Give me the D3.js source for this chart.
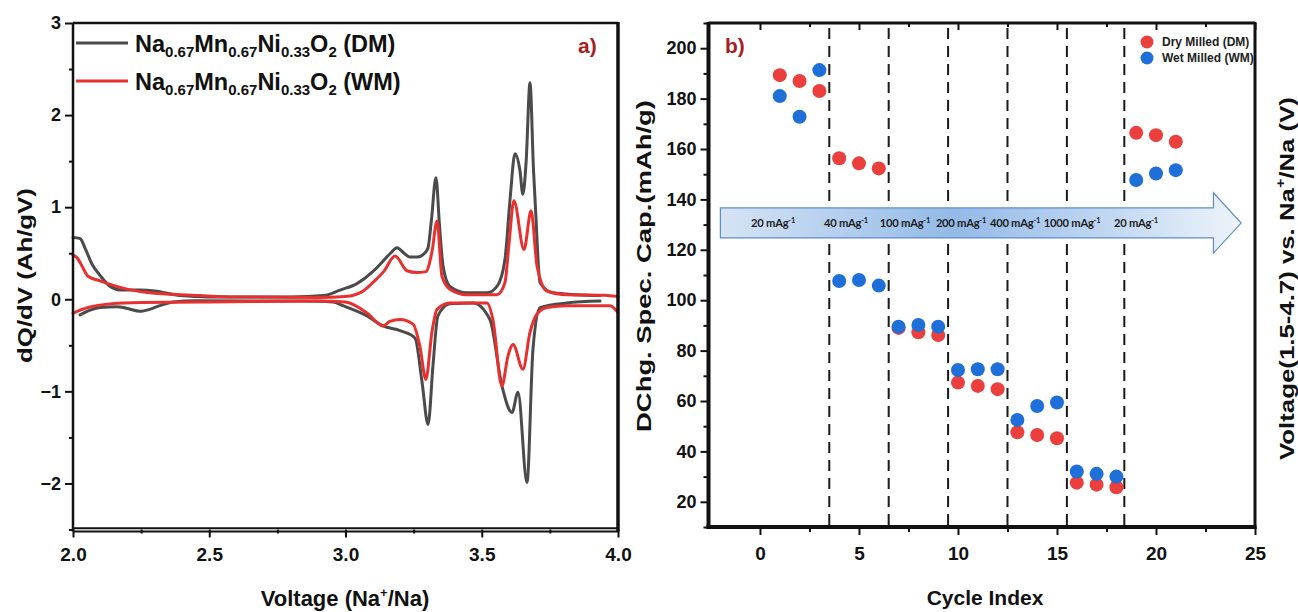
<!DOCTYPE html>
<html>
<head>
<meta charset="utf-8">
<script src="https://cdn.jsdelivr.net/npm/d3@7"></script>
<style>
  body { margin: 0; background: #fff; }
  svg { display: block; font-family: "Liberation Sans", Arial, sans-serif; font-weight: bold; }
</style>
</head>
<body>
<svg id="fig" width="1298" height="612"></svg>
<script>
// ---------- (a) differential capacity, [voltage, dQ/dV] ----------
const dmCharge = [
  [2.000,0.67],[2.026,0.66],[2.045,0.55],[2.070,0.38],[2.099,0.26],[2.136,0.14],[2.180,0.10],
  [2.246,0.10],[2.300,0.09],[2.393,0.04],[2.500,0.025],[2.800,0.025],[2.920,0.04],[2.980,0.10],
  [3.042,0.17],[3.100,0.30],[3.127,0.38],[3.165,0.50],[3.189,0.56],[3.215,0.50],[3.235,0.46],
  [3.265,0.46],[3.290,0.50],[3.303,0.56],[3.315,0.85],[3.332,1.32],[3.345,0.80],[3.358,0.36],
  [3.383,0.14],[3.446,0.07],[3.519,0.07],[3.556,0.14],[3.585,0.43],[3.604,1.09],[3.622,1.58],
  [3.640,1.40],[3.651,1.14],[3.663,1.50],[3.677,2.35],[3.690,1.40],[3.697,1.00],[3.714,0.18],
  [3.761,0.07],[3.850,0.05],[3.934,0.04]
];
const dmDischarge = [
  [2.026,-0.17],[2.060,-0.12],[2.099,-0.09],[2.161,-0.08],[2.200,-0.10],[2.246,-0.13],[2.280,-0.11],
  [2.308,-0.08],[2.367,-0.03],[2.450,-0.015],[2.833,-0.02],[2.954,-0.03],[2.991,-0.07],[3.079,-0.18],
  [3.138,-0.29],[3.200,-0.34],[3.255,-0.42],[3.281,-0.90],[3.303,-1.36],[3.321,-0.72],[3.339,-0.18],
  [3.383,-0.05],[3.468,-0.04],[3.530,-0.22],[3.574,-0.94],[3.611,-1.23],[3.633,-1.01],[3.666,-1.99],
  [3.688,-0.54],[3.714,-0.09],[3.813,-0.04],[3.934,-0.02]
];
const wmCharge = [
  [2.000,0.48],[2.015,0.45],[2.026,0.40],[2.055,0.25],[2.099,0.20],[2.198,0.11],[2.283,0.07],
  [2.466,0.04],[2.600,0.025],[2.900,0.02],[3.000,0.03],[3.060,0.08],[3.100,0.18],[3.140,0.30],
  [3.182,0.47],[3.226,0.31],[3.262,0.29],[3.295,0.30],[3.317,0.51],[3.336,0.85],[3.354,0.25],
  [3.383,0.11],[3.446,0.05],[3.556,0.05],[3.585,0.18],[3.600,0.60],[3.618,1.07],[3.655,0.54],
  [3.681,0.96],[3.703,0.36],[3.739,0.09],[3.813,0.05],[3.950,0.045],[4.000,0.03]
];
const wmDischarge = [
  [2.000,-0.15],[2.055,-0.09],[2.136,-0.05],[2.250,-0.035],[2.500,-0.03],[2.900,-0.02],[3.000,-0.03],
  [3.079,-0.15],[3.138,-0.29],[3.163,-0.24],[3.200,-0.22],[3.248,-0.27],[3.273,-0.51],[3.295,-0.87],
  [3.317,-0.36],[3.336,-0.11],[3.383,-0.04],[3.519,-0.04],[3.541,-0.22],[3.574,-0.94],[3.596,-0.62],
  [3.615,-0.49],[3.651,-0.76],[3.677,-0.36],[3.703,-0.16],[3.739,-0.09],[3.813,-0.07],[3.971,-0.07],
  [3.996,-0.13]
];
const formulaParts = [["Na","0.67"],["Mn","0.67"],["Ni","0.33"],["O","2"]];
const dqdvSeries = [" (DM)", " (WM)"];
const voltTicks = [2.0, 2.5, 3.0, 3.5, 4.0];
const voltMinor = [2.25, 2.75, 3.25, 3.75];
const dqdvTicks = [-2, -1, 0, 1, 2, 3];
const dqdvMinor = [-2.5, -1.5, -0.5, 0.5, 1.5, 2.5];

// ---------- (b) rate capability ----------
const cycles      = [1,2,3,4,5,6,7,8,9,10,11,12,13,14,15,16,17,18,19,20,21];
const dmCapacity  = [189.3,187.0,183.0,156.3,154.3,152.3,89.0,87.3,86.2,67.3,66.0,64.7,47.6,46.5,45.2,27.6,26.8,25.8,166.4,165.5,162.9];
const wmCapacity  = [181.0,172.8,191.3,107.6,108.0,105.8,89.5,90.2,89.5,72.3,72.6,72.6,52.5,58.0,59.4,32.0,31.1,30.0,147.7,150.3,151.6];
const capSeries   = ["Dry Milled (DM)", "Wet Milled (WM)"];
const rateBounds  = [3.5, 6.5, 9.5, 12.5, 15.5, 18.4];
const rateLabels  = ["20", "40", "100", "200", "400", "1000", "20"];
const rateLabelAt = [0.66, 4.34, 7.32, 10.15, 12.88, 15.76, 18.99];
const cycleTicks  = [0, 5, 10, 15, 20, 25];
const cycleMinor  = [2.5, 7.5, 12.5, 17.5, 22.5];
const capTicks    = [20, 40, 60, 80, 100, 120, 140, 160, 180, 200];
const capMinor    = [10, 30, 50, 70, 90, 110, 130, 150, 170, 190, 210];

const GREY = "#4b4b4b", RED = "#e8302e", DOT_RED = "#ea3f3c", DOT_BLUE = "#1f6fd8", LABEL_RED = "#a61e22";

const svg = d3.select("#fig");

function styleAxis(g, width) {
  g.select(".domain").remove();
  g.selectAll(".tick line").attr("stroke", "#111").attr("stroke-width", width);
  g.selectAll(".tick text").attr("fill", "#111");
}

// ===== panel (a) =====
const xL = d3.scaleLinear().domain([2, 4]).range([73, 618]);
const yL = d3.scaleLinear().domain([-2.5, 3]).range([529.5, 23]);
const gA = svg.append("g");

const lineL = d3.line().x(d => xL(d[0])).y(d => yL(d[1])).curve(d3.curveMonotoneX);
[[dmCharge, GREY], [dmDischarge, GREY], [wmCharge, RED], [wmDischarge, RED]].forEach(([data, c]) => {
  gA.append("path").datum(data).attr("d", lineL)
    .attr("fill", "none").attr("stroke", c).attr("stroke-width", 3)
    .attr("stroke-linejoin", "round").attr("stroke-linecap", "round");
});

gA.append("g").attr("transform", `translate(${xL.range()[0]},0)`)
  .call(d3.axisLeft(yL).tickValues(dqdvTicks).tickSize(8).tickPadding(4).tickFormat(d3.format("d")))
  .call(g => styleAxis(g, 2)).selectAll("text").attr("font-size", 18).attr("font-family", null);
gA.append("g").attr("transform", `translate(${xL.range()[0]},0)`)
  .call(d3.axisLeft(yL).tickValues(dqdvMinor).tickSize(4).tickFormat(""))
  .call(g => styleAxis(g, 2));
gA.append("g").attr("transform", `translate(0,${yL.range()[0]})`)
  .call(d3.axisBottom(xL).tickValues(voltTicks).tickSize(8).tickPadding(10).tickFormat(d3.format(".1f")))
  .call(g => styleAxis(g, 2)).selectAll("text").attr("font-size", 19).attr("font-family", null);
gA.append("g").attr("transform", `translate(0,${yL.range()[0]})`)
  .call(d3.axisBottom(xL).tickValues(voltMinor).tickSize(4).tickFormat(""))
  .call(g => styleAxis(g, 2));

// frame
const [ax0, ax1] = xL.range(), [ay1, ay0] = yL.range();
gA.append("line").attr("x1", ax0).attr("x2", ax0).attr("y1", ay0).attr("y2", ay1 + 2).attr("stroke", "#111").attr("stroke-width", 2.5);
gA.append("line").attr("x1", ax0).attr("x2", ax1).attr("y1", ay0).attr("y2", ay0).attr("stroke", "#111").attr("stroke-width", 2.5);
gA.append("line").attr("x1", ax1).attr("x2", ax1).attr("y1", ay0 - 1).attr("y2", ay1 + 2).attr("stroke", "#111").attr("stroke-width", 3.5);
gA.append("line").attr("x1", ax0).attr("x2", ax1 + 1).attr("y1", ay1 - 1.2).attr("y2", ay1 - 1.2).attr("stroke", "#111").attr("stroke-width", 2);
gA.append("line").attr("x1", ax0).attr("x2", ax1 + 1).attr("y1", ay1 + 2).attr("y2", ay1 + 2).attr("stroke", "#111").attr("stroke-width", 2);

// legend with chemical formula subscripts
[[GREY, 43], [RED, 81]].forEach(([c, y], i) => {
  gA.append("line").attr("x1", 76).attr("x2", 128).attr("y1", y).attr("y2", y).attr("stroke", c).attr("stroke-width", 3);
  const t = gA.append("text").attr("x", 135).attr("y", y + 9).attr("font-size", 23.5).attr("fill", "#111");
  formulaParts.forEach(([el, sub], k) => {
    t.append("tspan").attr("dy", k === 0 ? 0 : -5).text(el);
    t.append("tspan").attr("font-size", 15).attr("dy", 5).text(sub);
  });
  t.append("tspan").attr("dy", -5).text(dqdvSeries[i]);
});
gA.append("text").attr("x", 578).attr("y", 53).attr("font-size", 21).attr("fill", LABEL_RED).text("a)");

// axis titles
const xtA = gA.append("text").attr("x", 345).attr("y", 606).attr("text-anchor", "middle").attr("font-size", 22).attr("fill", "#111");
xtA.append("tspan").text("Voltage (Na");
xtA.append("tspan").attr("font-size", 13).attr("dy", -9).text("+");
xtA.append("tspan").attr("dy", 9).text("/Na)");

function rotatedTitle(parent, cx, cy, length, build) {
  const g = parent.append("g").attr("transform", `translate(${cx},${cy}) rotate(-90)`);
  const t = g.append("text").attr("text-anchor", "middle").attr("font-size", 21).attr("fill", "#111");
  build(t);
  const natural = t.node().getComputedTextLength();
  t.attr("transform", `scale(${length / natural},1)`);
}
rotatedTitle(gA, 32, 275.5, 175, t => t.text("dQ/dV (Ah/gV)"));

// ===== panel (b) =====
const xR = d3.scaleLinear().domain([-2.6, 25]).range([708.5, 1255]);
const yR = d3.scaleLinear().domain([10, 210]).range([527, 23]);
const gB = svg.append("g");
const [bx0, bx1] = xR.range(), [by1, by0] = yR.range();

// rate-step boundaries
gB.selectAll(".bound").data(rateBounds).join("line")
  .attr("x1", d => xR(d)).attr("x2", d => xR(d))
  .attr("y1", by0 + 5).attr("y2", by1)
  .attr("stroke", "#1a1a1a").attr("stroke-width", 2).attr("stroke-dasharray", "11,7");

// current density arrow
const grad = svg.append("defs").append("linearGradient").attr("id", "arrowFill");
[[0, "#d6e4f5"], [0.45, "#93bae8"], [0.75, "#c2d8f2"], [1, "#eef4fb"]].forEach(([o, c]) =>
  grad.append("stop").attr("offset", o).attr("stop-color", c));
const aL = xR(-2.0), aH = xR(22.9), aT = xR(24.3);
const bTop = yR(136.6), bBot = yR(124.7), hTop = yR(142.6), hBot = yR(118.7), aMid = yR(130.6);
gB.append("path")
  .attr("d", `M${aL},${bTop}L${aH},${bTop}L${aH},${hTop}L${aT},${aMid}L${aH},${hBot}L${aH},${bBot}L${aL},${bBot}Z`)
  .attr("fill", "url(#arrowFill)").attr("stroke", "#5d8cc6").attr("stroke-width", 1.2);
rateLabels.forEach((v, i) => {
  const t = gB.append("text").attr("x", xR(rateLabelAt[i])).attr("y", aMid + 4)
    .attr("text-anchor", "middle").attr("font-family", "Lato, 'Open Sans', sans-serif")
    .attr("font-weight", "bold").attr("font-size", 11.2).attr("letter-spacing", -0.25).attr("fill", "#1c1c1c");
  t.append("tspan").text(v + " mAg");
  t.append("tspan").attr("font-size", 7.5).attr("dy", -4).text("-1");
});

// capacity points
[[dmCapacity, DOT_RED], [wmCapacity, DOT_BLUE]].forEach(([vals, c]) => {
  gB.append("g").selectAll("circle").data(vals).join("circle")
    .attr("cx", (d, i) => xR(cycles[i])).attr("cy", d => yR(d)).attr("r", 7).attr("fill", c);
});

// axes
gB.append("g").attr("transform", `translate(${bx0},0)`)
  .call(d3.axisLeft(yR).tickValues(capTicks).tickSize(8).tickPadding(4))
  .call(g => styleAxis(g, 2)).selectAll("text").attr("font-size", 18).attr("font-family", null);
gB.append("g").attr("transform", `translate(${bx0},0)`)
  .call(d3.axisLeft(yR).tickValues(capMinor).tickSize(5).tickFormat(""))
  .call(g => styleAxis(g, 2));
gB.append("g").attr("transform", `translate(0,${by1})`)
  .call(d3.axisBottom(xR).tickValues(cycleTicks).tickSize(8).tickPadding(12))
  .call(g => styleAxis(g, 2)).selectAll("text").attr("font-size", 19).attr("font-family", null);
gB.append("g").attr("transform", `translate(0,${by1})`)
  .call(d3.axisBottom(xR).tickValues(cycleMinor).tickSize(5).tickFormat(""))
  .call(g => styleAxis(g, 2));
gB.append("g").attr("transform", `translate(0,${by0})`)
  .call(d3.axisTop(xR).tickValues(cycleTicks).tickSize(-7).tickFormat(""))
  .call(g => styleAxis(g, 2));
gB.append("g").attr("transform", `translate(0,${by0})`)
  .call(d3.axisTop(xR).tickValues(cycleMinor).tickSize(-4).tickFormat(""))
  .call(g => styleAxis(g, 2));

// frame
gB.append("line").attr("x1", bx0).attr("x2", bx0).attr("y1", by0 - 1).attr("y2", by1 + 2).attr("stroke", "#111").attr("stroke-width", 4);
gB.append("line").attr("x1", bx0).attr("x2", bx1).attr("y1", by0).attr("y2", by0).attr("stroke", "#111").attr("stroke-width", 3);
gB.append("line").attr("x1", bx1).attr("x2", bx1).attr("y1", by0 - 1).attr("y2", by1 + 2).attr("stroke", "#111").attr("stroke-width", 3);
gB.append("line").attr("x1", bx0 - 2).attr("x2", bx1 + 1.5).attr("y1", by1).attr("y2", by1).attr("stroke", "#111").attr("stroke-width", 4);

// legend
[[DOT_RED, 42], [DOT_BLUE, 58]].forEach(([c, y], i) => {
  gB.append("circle").attr("cx", 1147).attr("cy", y).attr("r", 6.5).attr("fill", c);
  gB.append("text").attr("x", 1162).attr("y", y + 4).attr("font-size", 12).attr("fill", "#222").text(capSeries[i]);
});
gB.append("text").attr("x", 725).attr("y", 53).attr("font-size", 21).attr("fill", LABEL_RED).text("b)");

// axis titles
gB.append("text").attr("x", 985).attr("y", 605).attr("text-anchor", "middle").attr("font-size", 21).attr("fill", "#111").text("Cycle Index");
rotatedTitle(gB, 651, 266, 332, t => t.text("DChg. Spec. Cap.(mAh/g)"));
rotatedTitle(gB, 1294, 278.5, 363, t => {
  t.append("tspan").text("Voltage(1.5-4.7) vs. Na");
  t.append("tspan").attr("font-size", 13).attr("dy", -9).text("+");
  t.append("tspan").attr("dy", 9).text("/Na (V)");
});
</script>
</body>
</html>
